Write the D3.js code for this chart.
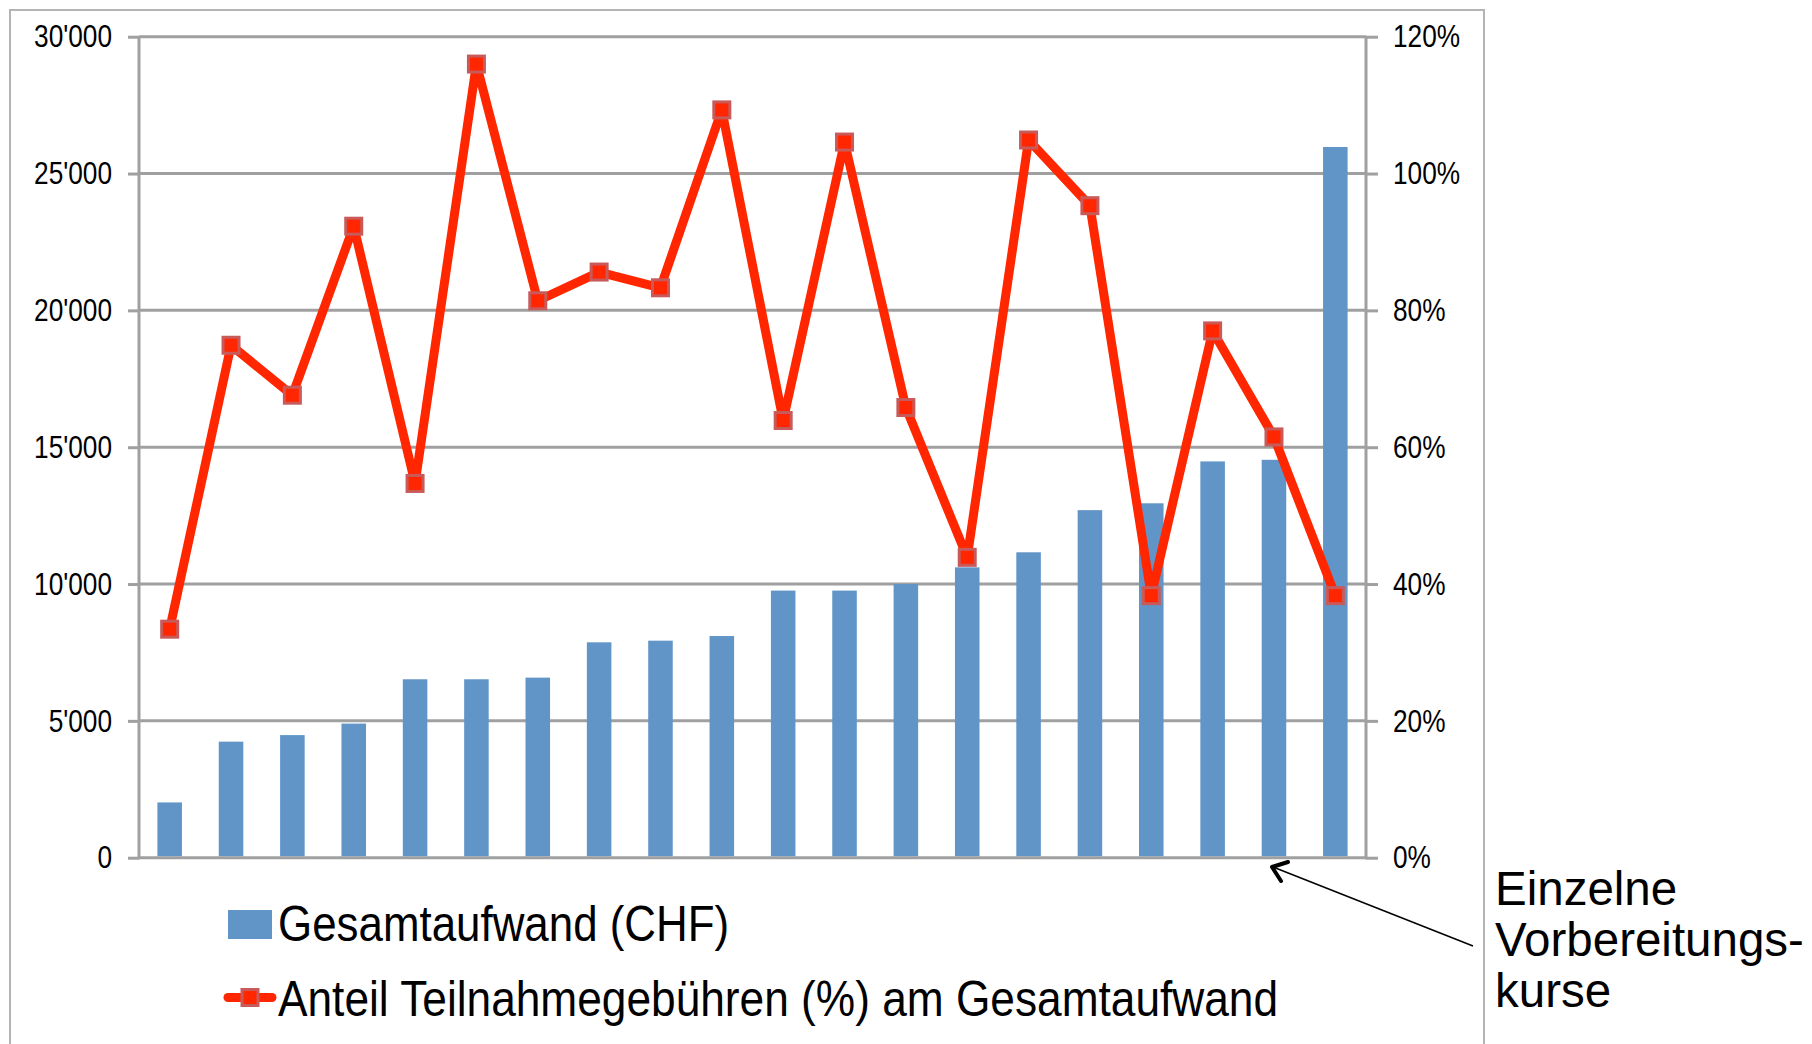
<!DOCTYPE html>
<html lang="de">
<head>
    <meta charset="UTF-8">
    <title>Gesamtaufwand und Anteil Teilnahmegebühren</title>
    <script src="https://d3js.org/d3.v7.min.js"></script>
    <style>
        body { margin: 0; background: #fff; }
        svg { display: block; }
        text { font-family: "Liberation Sans", Arial, sans-serif; }
    </style>
</head>
<body>
    <div id="chart"></div>
    <script>
        // Data
        const courses = ["K1", "K2", "K3", "K4", "K5", "K6", "K7", "K8", "K9", "K10",
                         "K11", "K12", "K13", "K14", "K15", "K16", "K17", "K18", "K19", "K20"];
        const totalCost = [2020, 4240, 4480, 4900, 6520, 6520, 6580, 7870, 7930, 8100,
                           9760, 9760, 10000, 10610, 11160, 12700, 12950, 14480, 14540, 25970];
        const feeShare = [0.334, 0.749, 0.676, 0.923, 0.547, 1.160, 0.814, 0.856, 0.833, 1.093,
                          0.639, 1.046, 0.658, 0.439, 1.049, 0.953, 0.383, 0.770, 0.615, 0.383];
        const leftTicks = [0, 5000, 10000, 15000, 20000, 25000, 30000];
        const rightTicks = [0, 0.2, 0.4, 0.6, 0.8, 1.0, 1.2];
        const legendLabels = ["Gesamtaufwand (CHF)", "Anteil Teilnahmegebühren (%) am Gesamtaufwand"];
        const noteLines = ["Einzelne", "Vorbereitungs-", "kurse"];

        const W = 1812, H = 1044;
        const plot = { left: 139, right: 1366, top: 36.7, bottom: 857.7 };
        const barColor = "#6195c8", lineColor = "#ff2600", markerStroke = "#c95a5a", gridColor = "#a0a0a0";
        const narrow = 0.82; // the original uses a condensed face, squeeze the regular one

        const svg = d3.select("#chart").append("svg")
            .attr("width", W)
            .attr("height", H);

        // outer frame
        svg.append("rect")
            .attr("x", 10).attr("y", 10)
            .attr("width", 1474).attr("height", 1040)
            .attr("fill", "none")
            .attr("stroke", "#b4b4b4")
            .attr("stroke-width", 2);

        const x = d3.scaleBand()
            .domain(courses)
            .range([plot.left, plot.right])
            .paddingInner(0.6)
            .paddingOuter(0.3);
        const yLeft = d3.scaleLinear().domain([0, 30000]).range([plot.bottom, plot.top]);
        const yRight = d3.scaleLinear().domain([0, 1.2]).range([plot.bottom, plot.top]);

        const chf = d3.formatLocale({ decimal: ".", thousands: "'", grouping: [3], currency: ["", ""] }).format(",");

        // gridlines
        svg.append("g")
            .selectAll("line")
            .data(leftTicks)
            .join("line")
            .attr("x1", plot.left).attr("x2", plot.right)
            .attr("y1", d => yLeft(d)).attr("y2", d => yLeft(d))
            .attr("stroke", gridColor)
            .attr("stroke-width", 3);

        // left axis
        const leftAxis = svg.append("g")
            .attr("transform", `translate(${plot.left},0)`)
            .call(d3.axisLeft(yLeft).tickValues(leftTicks).tickFormat(chf).tickSize(11));
        leftAxis.selectAll(".tick line").attr("stroke", gridColor).attr("stroke-width", 3);
        leftAxis.select(".domain").remove();
        leftAxis.selectAll(".tick text")
            .attr("x", 0)
            .attr("transform", `translate(-27,0) scale(${narrow},1)`)
            .attr("font-size", 32)
            .attr("fill", "#000");

        // right axis
        const rightAxis = svg.append("g")
            .attr("transform", `translate(${plot.right},0)`)
            .call(d3.axisRight(yRight).tickValues(rightTicks).tickFormat(d3.format(".0%")).tickSize(12));
        rightAxis.selectAll(".tick line").attr("stroke", gridColor).attr("stroke-width", 3);
        rightAxis.select(".domain").remove();
        rightAxis.selectAll(".tick text")
            .attr("x", 0)
            .attr("transform", `translate(27,0) scale(${narrow},1)`)
            .attr("font-size", 32)
            .attr("fill", "#000");
        svg.selectAll(".tick text").style("font-family", "'Liberation Sans', Arial, sans-serif");

        // vertical axis lines
        [plot.left, plot.right].forEach(px => {
            svg.append("line")
                .attr("x1", px).attr("x2", px)
                .attr("y1", plot.top).attr("y2", plot.bottom + 1.5)
                .attr("stroke", gridColor)
                .attr("stroke-width", 3);
        });

        // bars
        svg.append("g")
            .selectAll("rect")
            .data(totalCost)
            .join("rect")
            .attr("x", (d, i) => x(courses[i]))
            .attr("y", d => yLeft(d))
            .attr("width", x.bandwidth())
            .attr("height", d => yLeft(0) - yLeft(d) - 1.5)
            .attr("fill", barColor);

        // line with square markers
        const cx = i => x(courses[i]) + x.bandwidth() / 2;
        const line = d3.line()
            .x((d, i) => cx(i))
            .y(d => yRight(d));

        svg.append("path")
            .datum(feeShare)
            .attr("fill", "none")
            .attr("stroke", lineColor)
            .attr("stroke-width", 9)
            .attr("stroke-linejoin", "round")
            .attr("d", line);

        svg.append("g")
            .selectAll("rect")
            .data(feeShare)
            .join("rect")
            .attr("x", (d, i) => cx(i) - 8)
            .attr("y", d => yRight(d) - 8)
            .attr("width", 16)
            .attr("height", 16)
            .attr("fill", lineColor)
            .attr("stroke", markerStroke)
            .attr("stroke-width", 3);

        // legend
        const legend = svg.append("g");
        legend.append("rect")
            .attr("x", 228).attr("y", 910)
            .attr("width", 44).attr("height", 29)
            .attr("fill", barColor);
        legend.append("line")
            .attr("x1", 228).attr("x2", 272)
            .attr("y1", 997.5).attr("y2", 997.5)
            .attr("stroke", lineColor)
            .attr("stroke-width", 9)
            .attr("stroke-linecap", "round");
        legend.append("rect")
            .attr("x", 242).attr("y", 989.5)
            .attr("width", 16).attr("height", 16)
            .attr("fill", lineColor)
            .attr("stroke", markerStroke)
            .attr("stroke-width", 3);
        legend.selectAll("text")
            .data(legendLabels)
            .join("text")
            .attr("transform", (d, i) => `translate(278,${941 + i * 75}) scale(${i ? 0.885 : 0.878},1)`)
            .attr("font-size", 50)
            .attr("fill", "#000")
            .text(d => d);

        // annotation
        svg.append("g")
            .selectAll("text")
            .data(noteLines)
            .join("text")
            .attr("x", 1495)
            .attr("y", (d, i) => 905 + i * 51)
            .attr("font-size", 47.5)
            .attr("fill", "#000")
            .text(d => d);

        svg.append("line")
            .attr("x1", 1473).attr("y1", 946)
            .attr("x2", 1273).attr("y2", 867)
            .attr("stroke", "#000")
            .attr("stroke-width", 1.5);
        svg.append("path")
            .attr("d", "M1288,862 L1272,867 L1281,881")
            .attr("fill", "none")
            .attr("stroke", "#000")
            .attr("stroke-width", 4)
            .attr("stroke-linecap", "round")
            .attr("stroke-linejoin", "round");
    </script>
</body>
</html>
